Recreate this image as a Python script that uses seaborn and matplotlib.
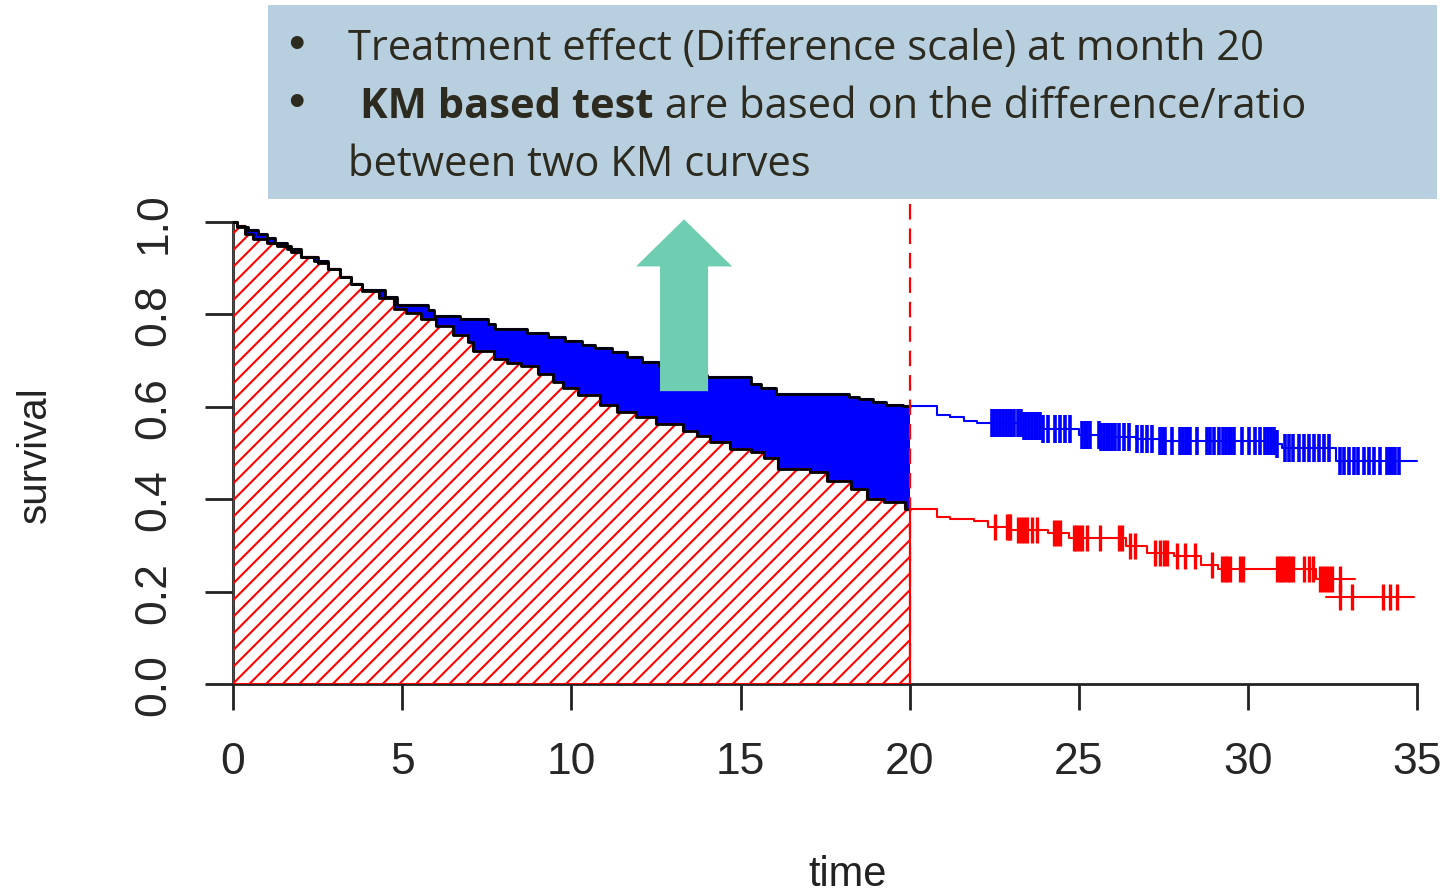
import matplotlib
matplotlib.use("Agg")
import matplotlib.pyplot as plt
import numpy as np
import pandas as pd
import seaborn as sns
from matplotlib.patches import Rectangle, FancyArrow

# Kaplan-Meier step curves (time of step, survival after step)
blue_time = [0.00, 0.12, 0.45, 0.75, 1.00, 1.25, 1.60, 2.00, 2.40, 2.80, 3.15, 3.50, 3.80,
             4.50, 4.85, 5.75, 5.95, 6.70, 7.55, 7.75, 8.70, 9.30, 9.80, 10.30, 10.70,
             11.20, 11.65, 12.10, 12.60, 13.10, 13.60, 14.00, 15.30, 15.60, 16.05, 18.20,
             18.50, 18.90, 19.30, 19.80, 20.80, 21.20, 21.60, 22.00, 23.30, 23.90, 25.00,
             25.60, 26.70, 27.40, 30.80, 31.00, 32.60, 35.00]
blue_surv = [1.000, 0.990, 0.982, 0.975, 0.965, 0.955, 0.942, 0.925, 0.915, 0.898, 0.882,
             0.865, 0.852, 0.838, 0.820, 0.810, 0.797, 0.790, 0.780, 0.768, 0.760, 0.752,
             0.742, 0.735, 0.727, 0.718, 0.708, 0.698, 0.688, 0.678, 0.670, 0.665, 0.650,
             0.640, 0.628, 0.622, 0.617, 0.610, 0.605, 0.602, 0.582, 0.578, 0.569, 0.565,
             0.558, 0.551, 0.540, 0.535, 0.530, 0.526, 0.520, 0.510, 0.483, 0.483]

red_time = [0.00, 0.12, 0.35, 0.60, 1.00, 1.30, 1.70, 2.00, 2.50, 2.80, 3.15, 3.50, 3.80,
            4.30, 4.75, 5.10, 5.55, 6.00, 6.50, 6.95, 7.10, 7.70, 8.10, 8.50, 9.00, 9.45,
            9.75, 10.20, 10.85, 11.35, 11.90, 12.50, 13.30, 13.70, 14.10, 14.70, 15.30,
            15.70, 16.10, 17.05, 17.55, 18.25, 18.75, 19.25, 19.85, 20.80, 21.20, 21.90,
            22.30, 23.00, 24.10, 24.70, 26.40, 27.00, 27.80, 28.60, 29.10, 32.00, 33.17]
red_surv = [1.000, 0.991, 0.975, 0.963, 0.955, 0.948, 0.935, 0.925, 0.912, 0.898, 0.882,
            0.865, 0.851, 0.835, 0.812, 0.803, 0.790, 0.775, 0.755, 0.740, 0.720, 0.703,
            0.695, 0.688, 0.671, 0.654, 0.640, 0.625, 0.603, 0.589, 0.577, 0.563, 0.548,
            0.537, 0.524, 0.509, 0.503, 0.490, 0.466, 0.459, 0.440, 0.422, 0.401, 0.393,
            0.379, 0.361, 0.357, 0.353, 0.340, 0.333, 0.327, 0.316, 0.299, 0.283, 0.278,
            0.258, 0.249, 0.227, 0.227]
red_tail_time = [32.30, 34.90]
red_tail_surv = [0.188, 0.188]

# censoring times
blue_censor = [22.42, 22.5, 22.58, 22.67, 22.77, 22.85, 22.93, 23.0, 23.07, 23.21, 23.29,
               23.37, 23.45, 23.53, 23.61, 23.69, 23.77, 23.85, 23.95, 24.1, 24.3, 24.45,
               24.59, 24.74, 25.09, 25.17, 25.25, 25.33, 25.58, 25.66, 25.74, 25.82, 25.9,
               25.98, 26.06, 26.17, 26.32, 26.47, 26.71, 26.86, 27.01, 27.16, 27.4, 27.48,
               27.55, 27.75, 27.99, 28.07, 28.15, 28.22, 28.29, 28.49, 28.78, 28.88, 28.98,
               29.13, 29.27, 29.35, 29.43, 29.5, 29.57, 29.82, 30.02, 30.21, 30.36, 30.51,
               30.6, 30.68, 30.76, 30.85, 31.1, 31.2, 31.34, 31.49, 31.64, 31.79, 31.94,
               32.09, 32.24, 32.38, 32.72, 32.82, 32.97, 33.12, 33.26, 33.41, 33.56, 33.71,
               33.9, 34.1, 34.18, 34.26, 34.35, 34.45]
red_censor = [22.53, 22.87, 22.92, 22.97, 23.21, 23.29, 23.37, 23.46, 23.61, 23.76, 24.25,
              24.35, 24.45, 24.84, 24.92, 25.0, 25.09, 25.23, 25.63, 26.17, 26.27, 26.52,
              26.66, 27.25, 27.4, 27.5, 27.6, 27.9, 28.14, 28.44, 28.93, 29.23, 29.31,
              29.39, 29.47, 29.77, 29.86, 30.85, 30.93, 31.01, 31.09, 31.17, 31.25, 31.34,
              31.64, 31.79, 31.93, 32.13, 32.21, 32.3, 32.39, 32.48, 32.72]
red_tail_censor = [32.72, 33.07, 34.0, 34.2, 34.4]

landmark = 20
xticks = [0, 5, 10, 15, 20, 25, 30, 35]
yticks = [0.0, 0.2, 0.4, 0.6, 0.8, 1.0]
bullet_lines = ["Treatment effect (Difference scale) at month 20",
                "KM based test",
                " are based on the difference/ratio",
                "between two KM curves"]

sns.set_style("ticks")
plt.rcParams['font.family'] = ['Liberation Sans', 'DejaVu Sans']
plt.rcParams['hatch.color'] = 'red'
plt.rcParams['hatch.linewidth'] = 1.5

W, H = 1445, 895
fig = plt.figure(figsize=(W / 100, H / 100), dpi=100)
ax = fig.add_axes([233 / W, (H - 685) / H, 1208 / W, 485 / H])
ax.set_xlim(0, 35.7)
ax.set_ylim(0, 1.05)


def step_at(t, times, survs):
    times = np.asarray(times)
    survs = np.asarray(survs)
    idx = np.searchsorted(times, t, side='right') - 1
    return survs[np.clip(idx, 0, len(survs) - 1)]


bt, bs = np.array(blue_time), np.array(blue_surv)
rt, rs = np.array(red_time), np.array(red_surv)

# common grid up to the landmark
grid = np.union1d(bt[bt < landmark], rt[rt < landmark])
grid = np.append(grid, landmark)
blue_g = step_at(grid, bt, bs)
red_g = step_at(grid, rt, rs)
blue_g[-1] = blue_g[-2]
red_g[-1] = red_g[-2]

# hatched area under red curve
ax.fill_between(grid, 0, red_g, step='post', facecolor='none', edgecolor='red',
                hatch='//', linewidth=1.5, zorder=1)
# difference area
ax.fill_between(grid, red_g, blue_g, step='post', facecolor='#0000ff',
                edgecolor='none', zorder=2)

# full curves
sns.lineplot(x=bt, y=bs, drawstyle='steps-post', estimator=None, sort=False,
             color='#0000ff', linewidth=1.5, ax=ax, zorder=2.5)
sns.lineplot(x=rt, y=rs, drawstyle='steps-post', estimator=None, sort=False,
             color='red', linewidth=1.5, ax=ax, zorder=2.5)
sns.lineplot(x=red_tail_time, y=red_tail_surv, drawstyle='steps-post', estimator=None,
             sort=False, color='red', linewidth=1.5, ax=ax, zorder=2.5)

# black outlines up to the landmark
ax.plot(grid, blue_g, drawstyle='steps-post', color='black', lw=2, zorder=3)
ax.plot(grid, red_g, drawstyle='steps-post', color='black', lw=2, zorder=3)

# censor marks
ax.plot(blue_censor, step_at(blue_censor, bt, bs), ls='none', marker='|',
        ms=20, mew=2.6, color='#0000ff', zorder=3)
ax.plot(red_censor, step_at(red_censor, rt, rs), ls='none', marker='|',
        ms=19, mew=2.4, color='red', zorder=3)
ax.plot(red_tail_censor, step_at(red_tail_censor, red_tail_time, red_tail_surv),
        ls='none', marker='|', ms=19, mew=2.4, color='red', zorder=3)

# landmark line
ax.axvline(landmark, ymin=0, ymax=1.039 / 1.05, color='red', lw=1.6,
           dashes=(7, 4), zorder=4)

# green arrow
ax.add_patch(FancyArrow(13.33, 0.634, 0, 0.27, width=1.42, head_width=2.84,
                        head_length=0.102, length_includes_head=False,
                        color='#6fcdb2', lw=0, zorder=5))

# axes styling (R look)
sns.despine(ax=ax)
ax.spines['left'].set_bounds(0, 1)
ax.spines['bottom'].set_bounds(0, 35)
for s in ['left', 'bottom']:
    ax.spines[s].set_linewidth(2)
    ax.spines[s].set_color('#222222')
    ax.spines[s].set_zorder(0.5)
ax.set_xticks(xticks)
ax.set_xticklabels([str(x) for x in xticks], fontsize=32)
ax.set_yticks(yticks)
ax.set_yticklabels([f"{y:.1f}" for y in yticks], fontsize=32, rotation=90, va='center')
ax.tick_params(axis='x', length=19, width=2, pad=22, color='#222222')
ax.tick_params(axis='y', length=20, width=2, pad=22, color='#222222')

fig.text(35 / W, 1 - 455 / H, "survival", rotation=90, fontsize=29, ha='center',
         va='center', color='#222222')
fig.text(848 / W, 9 / H, "time", fontsize=30, ha='center', va='baseline',
         color='#222222')

# annotation box
fig.patches.append(Rectangle((268 / W, 1 - 200 / H), (1437 - 268) / W, 194 / H,
                             transform=fig.transFigure, facecolor='#b7cfde',
                             edgecolor='none', zorder=0))
fam = ['Open Sans', 'DejaVu Sans']
txt_kw = dict(fontsize=30, color='#2d2a1f', family=fam, va='baseline', ha='left')
for yb in (60, 118):
    fig.text(296 / W, 1 - (yb - 14) / H, "\u2022", ha='center', va='center',
             fontsize=34, color='#2d2a1f', family=['Liberation Sans', 'DejaVu Sans'])
fig.text(348 / W, 1 - 60 / H, bullet_lines[0], **txt_kw)
t_bold = fig.text(360 / W, 1 - 118 / H, bullet_lines[1], fontweight='bold', **txt_kw)
fig.canvas.draw()
bb = t_bold.get_window_extent(renderer=fig.canvas.get_renderer())
fig.text(bb.x1 / W, 1 - 118 / H, bullet_lines[2], **txt_kw)
fig.text(348 / W, 1 - 176 / H, bullet_lines[3], **txt_kw)

fig.savefig("out.png", dpi=100)
